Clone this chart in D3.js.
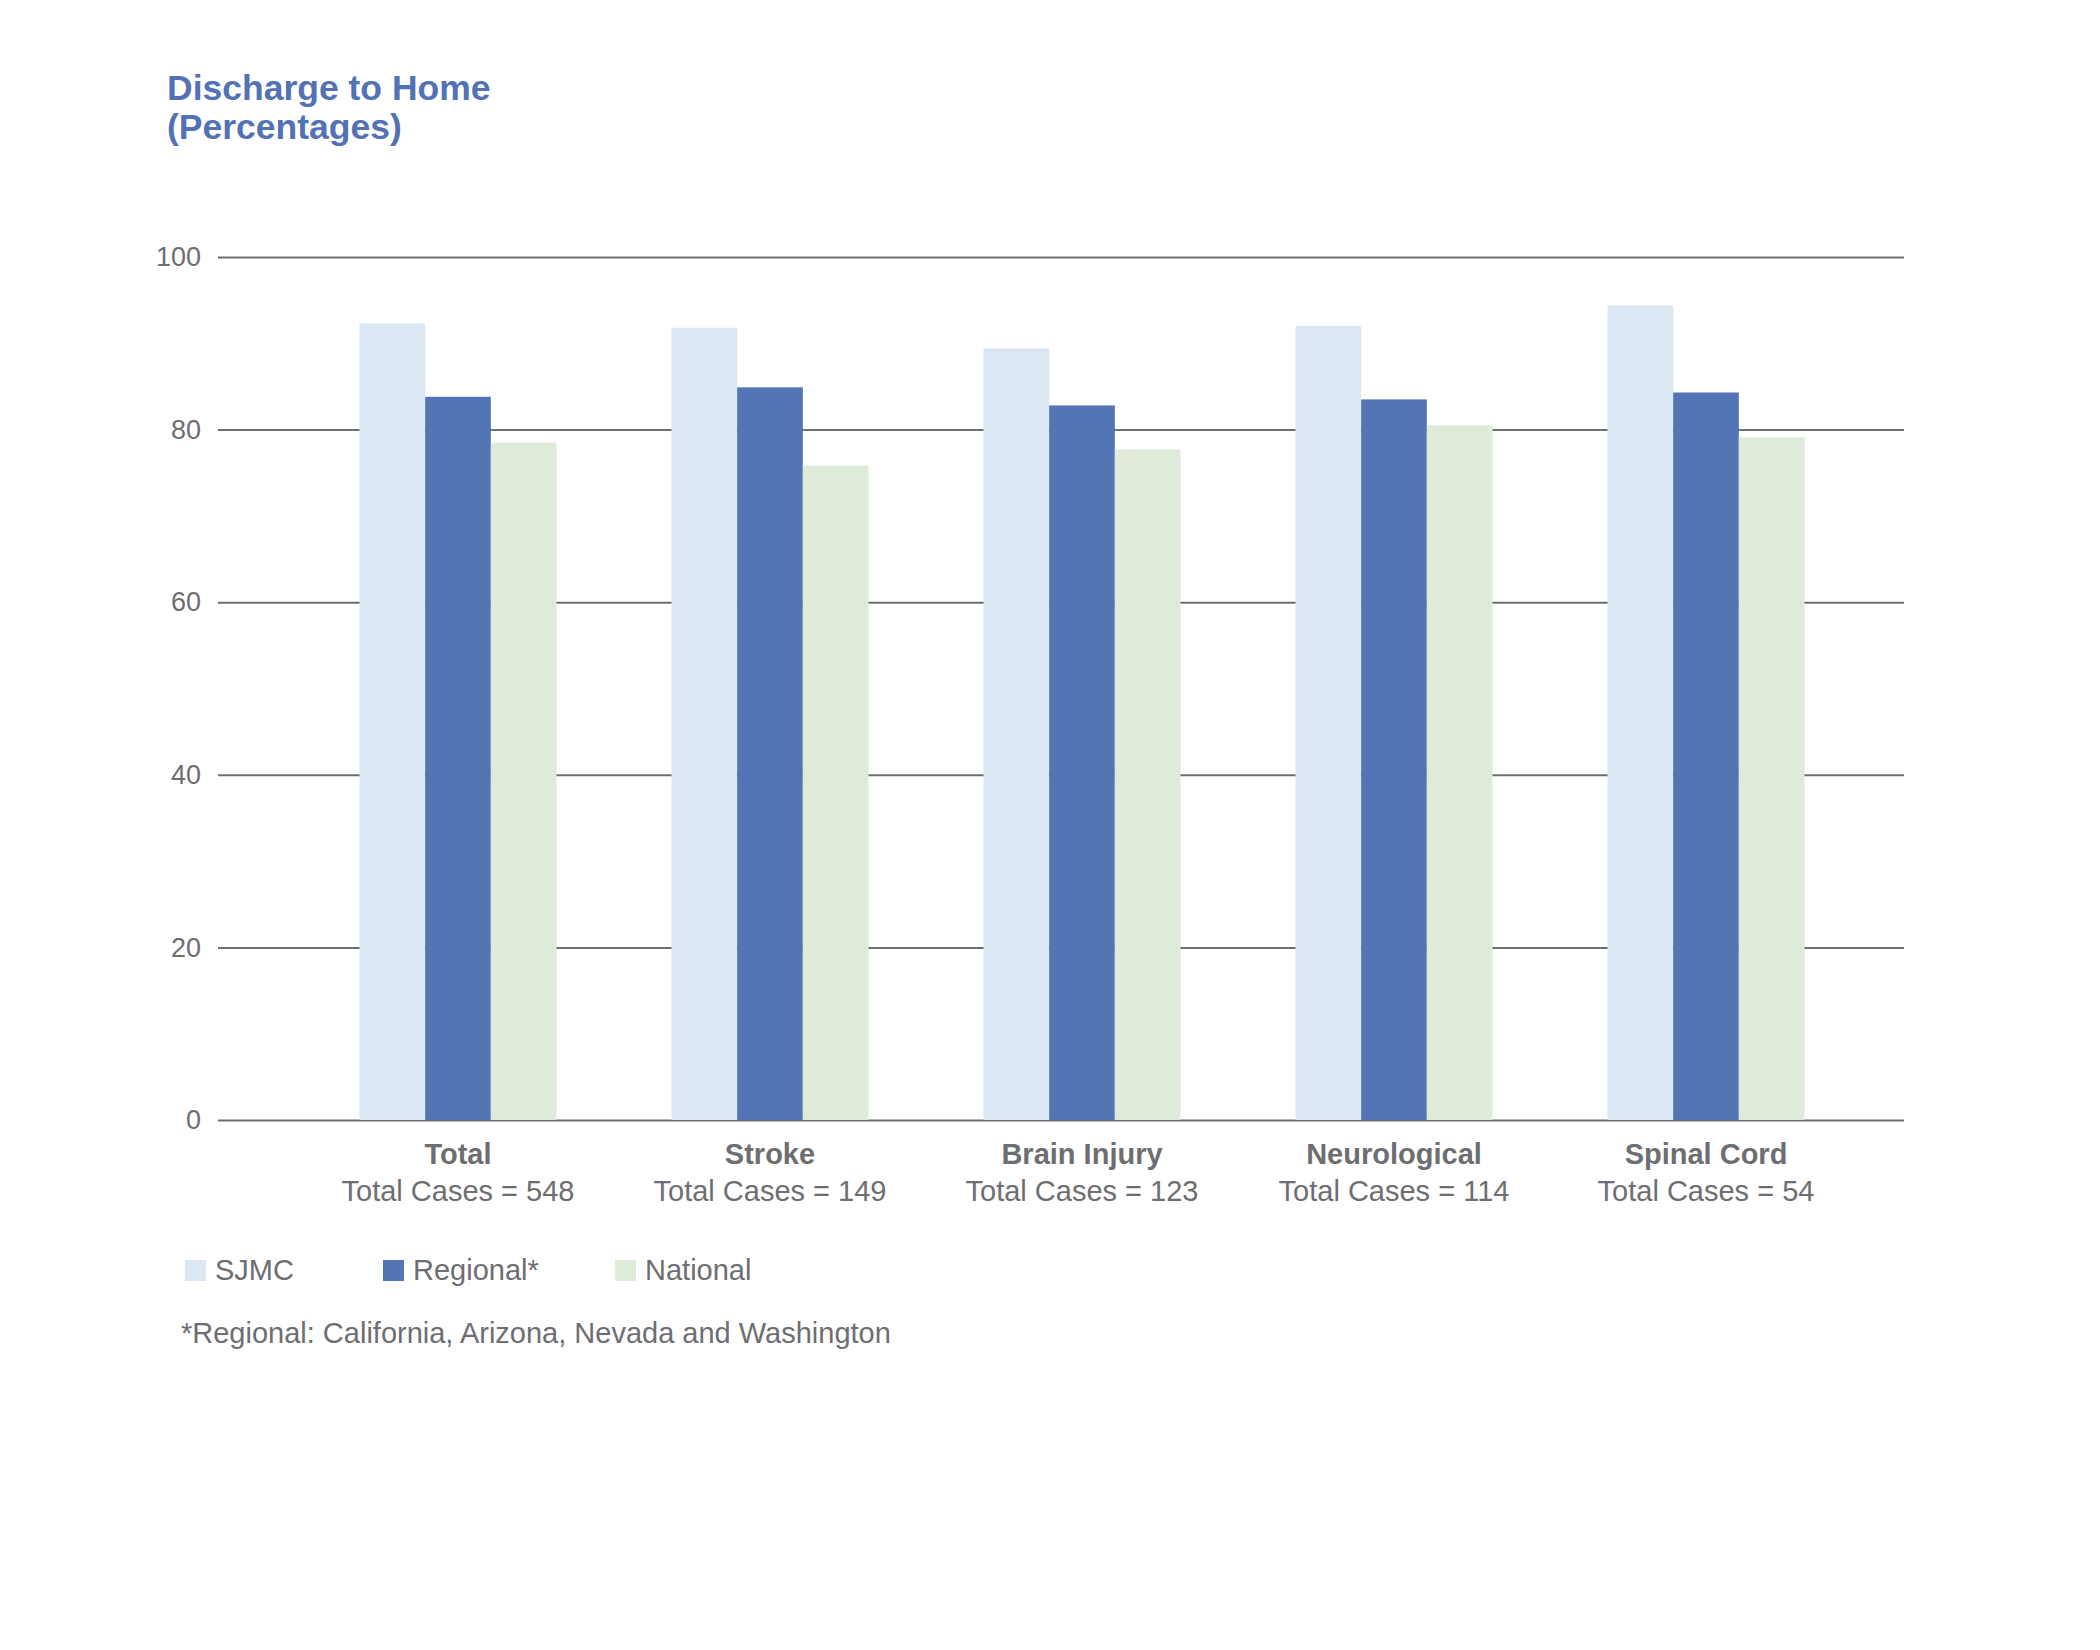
<!DOCTYPE html>
<html>
<head>
<meta charset="utf-8">
<script src="https://cdn.jsdelivr.net/npm/d3@7"></script>
<style>
  body { margin: 0; background: #fff; }
  svg text { font-family: "Liberation Sans", Arial, Helvetica, sans-serif; }
</style>
</head>
<body>
<div id="chart"></div>
<script>
var categories = ["Total", "Stroke", "Brain Injury", "Neurological", "Spinal Cord"];
var totalCases = [548, 149, 123, 114, 54];
var seriesNames = ["SJMC", "Regional*", "National"];
var sjmc = [92.3, 91.8, 89.4, 92.0, 94.4];
var regional = [83.8, 84.9, 82.8, 83.5, 84.3];
var national = [78.5, 75.8, 77.7, 80.5, 79.1];
var yTicks = [0, 20, 40, 60, 80, 100];

var width = 2100,
	height = 1650;

var colors = ["#dbe7f3", "#5475b5", "#dfebd9"],
	grey = "#6d6e71",
	blue = "#5272b5";

var gridLeft = 218, gridRight = 1904,
	yTop = 257, yBottom = 1120;

var svg = d3.select("#chart").append("svg")
	.attr("width", width)
	.attr("height", height);

// table of values, one row per category
var table = categories.map(function(c, i) {
	return { cat: c, cases: totalCases[i], vals: [sjmc[i], regional[i], national[i]] };
});

var y = d3.scaleLinear()
	.domain([0, 100])
	.range([yBottom, yTop]);

var x0 = d3.scaleBand()
	.domain(categories)
	.range([302, 1862])
	.padding(0);

var groupWidth = 197;
var x1 = d3.scaleBand()
	.domain(seriesNames)
	.range([(x0.bandwidth() - groupWidth) / 2, (x0.bandwidth() + groupWidth) / 2]);

// title
svg.append("text")
	.attr("x", 167)
	.attr("y", 100)
	.attr("fill", blue)
	.attr("font-size", 35.5)
	.attr("font-weight", "bold")
	.text("Discharge to Home");
svg.append("text")
	.attr("x", 167)
	.attr("y", 139)
	.attr("fill", blue)
	.attr("font-size", 35.5)
	.attr("font-weight", "bold")
	.text("(Percentages)");

// grid + y labels
var yAxis = svg.append("g")
	.attr("transform", "translate(" + gridLeft + ",0)")
	.call(d3.axisLeft(y)
		.tickValues(yTicks)
		.tickSize(-(gridRight - gridLeft))
		.tickPadding(17));
yAxis.select(".domain").remove();
yAxis.selectAll("line")
	.attr("stroke", grey)
	.attr("stroke-width", 2);
yAxis.selectAll("text")
	.attr("fill", grey)
	.attr("font-size", 27)
	.attr("font-family", "Liberation Sans, Arial, sans-serif");

// bars
var groups = svg.selectAll(".group")
	.data(table)
	.enter().append("g")
	.attr("class", "group")
	.attr("transform", function(d) { return "translate(" + x0(d.cat) + ",0)"; });

groups.selectAll("rect")
	.data(function(d) { return d.vals.map(function(v, j) { return { s: seriesNames[j], v: v, j: j }; }); })
	.enter().append("rect")
	.attr("x", function(d) { return x1(d.s); })
	.attr("width", x1.bandwidth())
	.attr("y", function(d) { return y(d.v); })
	.attr("height", function(d) { return y(0) - y(d.v); })
	.attr("fill", function(d) { return colors[d.j]; });

// category labels
groups.append("text")
	.attr("x", x0.bandwidth() / 2)
	.attr("y", 1164)
	.attr("text-anchor", "middle")
	.attr("fill", grey)
	.attr("font-size", 29)
	.attr("font-weight", "bold")
	.text(function(d) { return d.cat; });
groups.append("text")
	.attr("x", x0.bandwidth() / 2)
	.attr("y", 1201)
	.attr("text-anchor", "middle")
	.attr("fill", grey)
	.attr("font-size", 29)
	.text(function(d) { return "Total Cases = " + d.cases; });

// legend
var legendX = [185, 383, 615];
var legend = svg.selectAll(".legend")
	.data(seriesNames)
	.enter().append("g")
	.attr("class", "legend")
	.attr("transform", function(d, i) { return "translate(" + legendX[i] + ",1260)"; });
legend.append("rect")
	.attr("width", 21)
	.attr("height", 21)
	.attr("fill", function(d, i) { return colors[i]; });
legend.append("text")
	.attr("x", 30)
	.attr("y", 20)
	.attr("fill", grey)
	.attr("font-size", 29)
	.text(function(d) { return d; });

svg.append("text")
	.attr("x", 181)
	.attr("y", 1343)
	.attr("fill", grey)
	.attr("font-size", 29)
	.text("*Regional: California, Arizona, Nevada and Washington");
</script>
</body>
</html>
